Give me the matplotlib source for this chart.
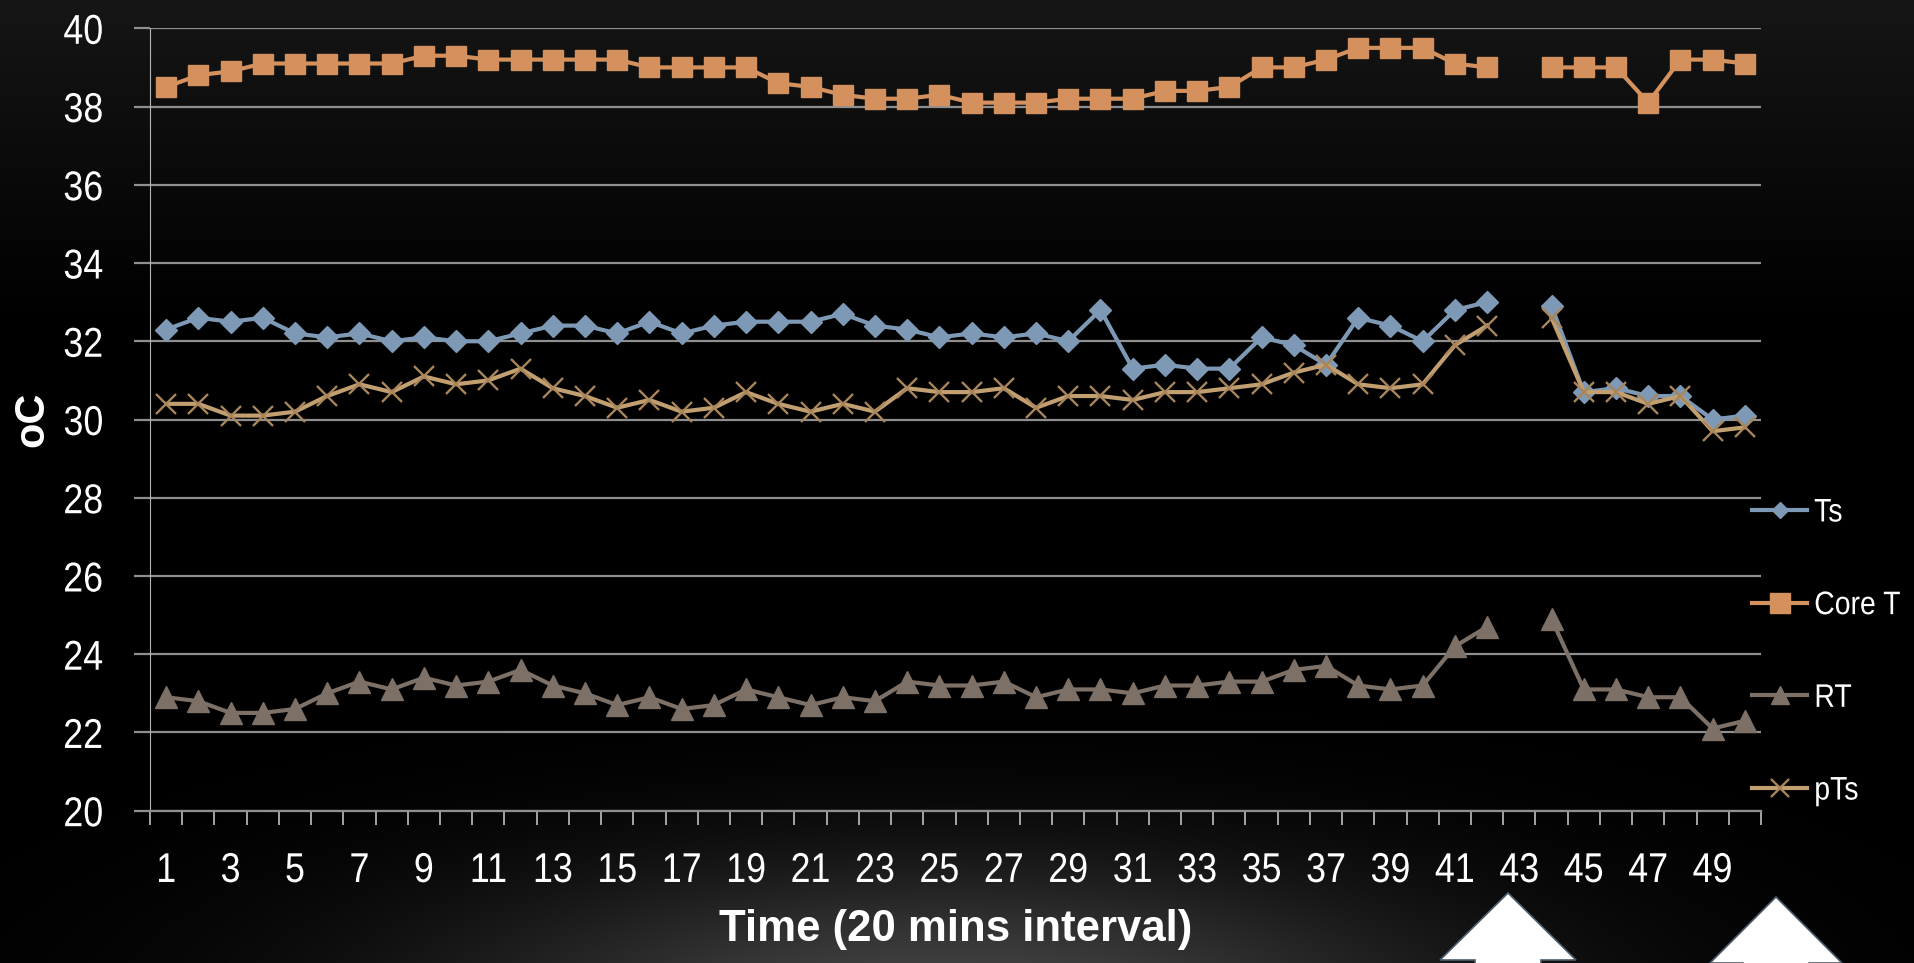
import numpy as np
import matplotlib
matplotlib.use("Agg")
import matplotlib.pyplot as plt
from matplotlib.patches import Polygon
from matplotlib import patheffects
from matplotlib.transforms import Affine2D

nan = np.nan

# Time points (20 minute intervals)
time_idx = np.arange(1, 51)
tick_labels = [str(i) if i % 2 == 1 else "" for i in time_idx]

# Temperatures in degrees C; interval 43 was not recorded
ts = [32.3, 32.6, 32.5, 32.6, 32.2, 32.1, 32.2, 32.0, 32.1, 32.0,
      32.0, 32.2, 32.4, 32.4, 32.2, 32.5, 32.2, 32.4, 32.5, 32.5,
      32.5, 32.7, 32.4, 32.3, 32.1, 32.2, 32.1, 32.2, 32.0, 32.8,
      31.3, 31.4, 31.3, 31.3, 32.1, 31.9, 31.4, 32.6, 32.4, 32.0,
      32.8, 33.0, nan, 32.9, 30.7, 30.8, 30.6, 30.6, 30.0, 30.1]
core_t = [38.5, 38.8, 38.9, 39.1, 39.1, 39.1, 39.1, 39.1, 39.3, 39.3,
          39.2, 39.2, 39.2, 39.2, 39.2, 39.0, 39.0, 39.0, 39.0, 38.6,
          38.5, 38.3, 38.2, 38.2, 38.3, 38.1, 38.1, 38.1, 38.2, 38.2,
          38.2, 38.4, 38.4, 38.5, 39.0, 39.0, 39.2, 39.5, 39.5, 39.5,
          39.1, 39.0, nan, 39.0, 39.0, 39.0, 38.1, 39.2, 39.2, 39.1]
rt = [22.9, 22.8, 22.5, 22.5, 22.6, 23.0, 23.3, 23.1, 23.4, 23.2,
      23.3, 23.6, 23.2, 23.0, 22.7, 22.9, 22.6, 22.7, 23.1, 22.9,
      22.7, 22.9, 22.8, 23.3, 23.2, 23.2, 23.3, 22.9, 23.1, 23.1,
      23.0, 23.2, 23.2, 23.3, 23.3, 23.6, 23.7, 23.2, 23.1, 23.2,
      24.2, 24.7, nan, 24.9, 23.1, 23.1, 22.9, 22.9, 22.1, 22.3]
pts = [30.4, 30.4, 30.1, 30.1, 30.2, 30.6, 30.9, 30.7, 31.1, 30.9,
       31.0, 31.3, 30.8, 30.6, 30.3, 30.5, 30.2, 30.3, 30.7, 30.4,
       30.2, 30.4, 30.2, 30.8, 30.7, 30.7, 30.8, 30.3, 30.6, 30.6,
       30.5, 30.7, 30.7, 30.8, 30.9, 31.2, 31.4, 30.9, 30.8, 30.9,
       31.9, 32.4, nan, 32.6, 30.7, 30.7, 30.4, 30.6, 29.7, 29.8]

plt.rcParams["font.family"] = ["Liberation Sans", "DejaVu Sans"]


class Squeeze(patheffects.AbstractPathEffect):
    """Draw text glyphs narrowed horizontally about one edge or the centre."""

    def __init__(self, sx, anchor="center"):
        super().__init__()
        self.sx = sx
        self.anchor = anchor

    def draw_path(self, renderer, gc, tpath, affine, rgbFace=None):
        ext = tpath.get_extents(affine)
        cx = {"left": ext.x0, "right": ext.x1,
              "center": 0.5 * (ext.x0 + ext.x1)}[self.anchor]
        squeeze = Affine2D().translate(-cx, 0).scale(self.sx, 1).translate(cx, 0)
        renderer.draw_path(gc, tpath, affine + squeeze, rgbFace)


W, H = 1915, 963
fig = plt.figure(figsize=(W / 100, H / 100), dpi=100)
fig.patch.set_facecolor("black")

# Dark slide background: faint grey at the top, soft glow at the bottom centre
yy, xx = np.mgrid[0:H, 0:W].astype(float)
top = 0.085 * np.clip(1 - yy / 320.0, 0, 1)
glow = 0.27 * np.exp(-(((xx - 950) / 520.0) ** 2 + ((yy - 1010) / 150.0) ** 2))
shade = np.clip(top + glow, 0, 1)
bg = np.dstack([shade, shade, shade])
bg_ax = fig.add_axes([0, 0, 1, 1], zorder=-1)
bg_ax.imshow(bg, aspect="auto", interpolation="bilinear")
bg_ax.set_axis_off()

left, right = 150 / W, 1761 / W
bottom, top_y = 1 - 810.7 / H, 1 - 28.3 / H
ax = fig.add_axes([left, bottom, right - left, top_y - bottom])
ax.patch.set_alpha(0)

grid_col = "#8f8f8f"
series = [
    ("Ts", ts, dict(color="#7d99b5", marker="D", ms=11.5, mec="#7d99b5")),
    ("Core T", core_t, dict(color="#d4915e", marker="s", ms=14.5, mec="#d4915e")),
    ("RT", rt, dict(color="#7d7066", marker="^", ms=16, mec="#7d7066")),
    ("pTs", pts, dict(color="#c29f70", marker="x", ms=15, mew=1.7, mec="#a8855a")),
]
lines = []
for name, vals, style in series:
    ln, = ax.plot(time_idx, vals, lw=3.0, label=name, **style)
    lines.append(ln)

ax.set_xlim(0.5, 50.5)
ax.set_ylim(20, 40)
ax.set_yticks(np.arange(20, 41, 2))
ax.yaxis.grid(True, color=grid_col, lw=1.6)
ax.set_axisbelow(True)

for s in ("top", "right"):
    ax.spines[s].set_visible(False)
ax.spines["left"].set_color("#b5b5b5")
ax.spines["left"].set_linewidth(0.8)
ax.spines["bottom"].set_color(grid_col)
ax.spines["bottom"].set_linewidth(1.6)

ax.set_xticks(time_idx)
ax.set_xticklabels(tick_labels)
ax.set_xticks(np.arange(0.5, 51, 1), minor=True)
ax.tick_params(axis="x", which="major", length=0, pad=29, labelsize=30,
               labelcolor="white")
ax.tick_params(axis="x", which="minor", length=10, width=1.2,
               color="#c0c0c0", direction="out")
ax.tick_params(axis="y", length=11.5, width=1.6, color=grid_col, pad=22,
               labelsize=30, labelcolor="white")

for tick in ax.xaxis.get_major_ticks():
    tick.label1.set_path_effects([Squeeze(0.86, "center")])
for tick in ax.yaxis.get_major_ticks():
    tick.label1.set_path_effects([Squeeze(0.86, "right")])

ax.set_ylabel("oC", fontsize=30, fontweight="bold", color="white", va="center")
ax.yaxis.set_label_coords((32 - 150) / 1611, 0.5)
ax.set_xlabel("Time (20 mins interval)", fontsize=31.5, fontweight="bold",
              color="white", va="center")
ax.xaxis.set_label_coords(0.5, ((H - 929) / H - bottom) / (top_y - bottom))

leg = ax.legend(handles=lines, loc="center left",
                bbox_to_anchor=(1752 / W, 1 - 652 / H),
                bbox_transform=fig.transFigure, frameon=False, fontsize=23.5,
                labelcolor="white", borderpad=0, borderaxespad=0,
                handlelength=1.7, handletextpad=0.2, labelspacing=1.89)
for h, ms in zip(leg.legend_handles, (8, 14, 13, 13)):
    h.set_markersize(ms)
for txt in leg.get_texts():
    txt.set_path_effects([Squeeze(0.87, "left")])

# Upward block arrows under the time axis
def up_arrow(cx, tip_y, half_head, half_shaft, base_y):
    pts_px = [(cx, tip_y), (cx + half_head, base_y), (cx + half_shaft, base_y),
              (cx + half_shaft, H + 5), (cx - half_shaft, H + 5),
              (cx - half_shaft, base_y), (cx - half_head, base_y)]
    verts = [(px / W, 1 - py / H) for px, py in pts_px]
    fig.patches.append(Polygon(verts, closed=True, transform=fig.transFigure,
                               facecolor="white", edgecolor="#4d5d6c",
                               lw=1.2, zorder=5))

up_arrow(1508, 893, 68, 33, 960)
up_arrow(1776, 897, 66, 33, 963)

fig.savefig("out.png", dpi=100, facecolor=fig.get_facecolor())
